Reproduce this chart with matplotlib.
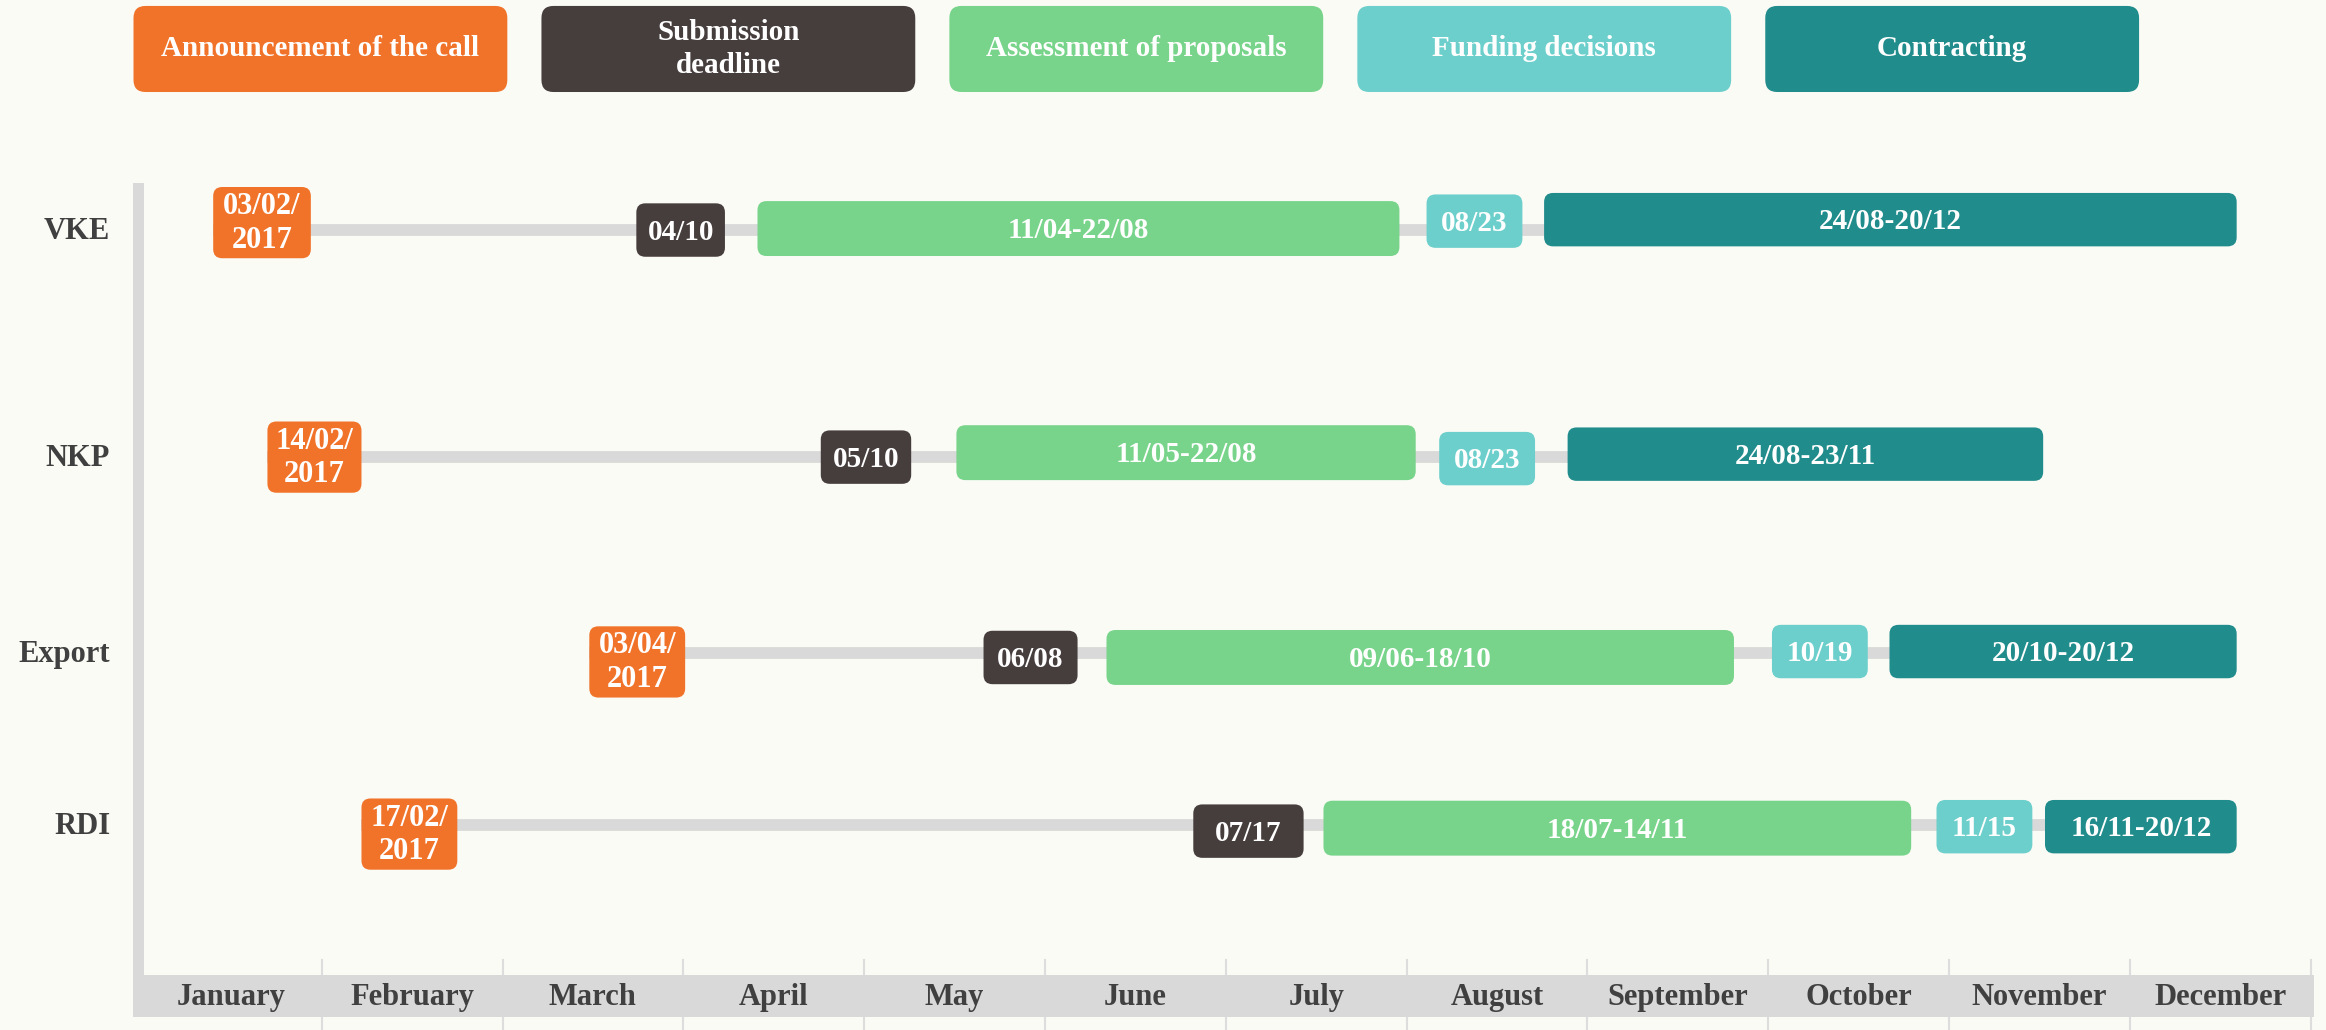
"""Call timeline for four programmes (VKE, NKP, Export, RDI), 2017."""
import matplotlib
matplotlib.use("Agg")
import matplotlib.pyplot as plt
from matplotlib.patches import FancyBboxPatch, Rectangle

plt.rcParams["font.family"] = ["Liberation Serif", "DejaVu Serif"]

BG    = "#FBFBF6"
GREY  = "#D9D9D9"
TXT   = "#404040"
OUT   = "out.png"

# phases: legend label, colour
phases  = ["Announcement of the call", "Submission\ndeadline",
           "Assessment of proposals", "Funding decisions", "Contracting"]
colours = ["#F07329", "#463D3D", "#78D48A", "#6CCFCB", "#218C8C"]

months = ["January", "February", "March", "April", "May", "June", "July",
          "August", "September", "October", "November", "December"]

rows   = ["VKE", "NKP", "Export", "RDI"]
line_y = [155, 308, 440, 556]          # row centre (y in chart units, top = 0)

# x in month units (0 = start of January)
ann_labels = ["03/02/\n2017", "14/02/\n2017", "03/04/\n2017", "17/02/\n2017"]
ann_start  = [0.40, 0.70, 2.48, 1.22]
ann_end    = [0.94, 1.22, 3.01, 1.75]
ann_y      = [150, 308, 446, 562]

sub_labels = ["04/10", "05/10", "06/08", "07/17"]
sub_start  = [2.74, 3.76, 4.66, 5.82]
sub_end    = [3.23, 4.26, 5.18, 6.43]
sub_y      = [155, 308, 443, 560]

ass_labels = ["11/04-22/08", "11/05-22/08", "09/06-18/10", "18/07-14/11"]
ass_start  = [3.41, 4.51, 5.34, 6.54]
ass_end    = [6.96, 7.05, 8.81, 9.79]
ass_y      = [154, 305, 443, 558]

fund_labels = ["08/23", "08/23", "10/19", "11/15"]
fund_start  = [7.11, 7.18, 9.02, 9.93]
fund_end    = [7.64, 7.71, 9.55, 10.46]
fund_y      = [149, 309, 439, 557]

con_labels = ["24/08-20/12", "24/08-23/11", "20/10-20/12", "16/11-20/12"]
con_start  = [7.76, 7.89, 9.67, 10.53]
con_end    = [11.59, 10.52, 11.59, 11.59]
con_y      = [148, 306, 439, 557]

series = [
    (ann_labels,  ann_start,  ann_end,  ann_y,  48),
    (sub_labels,  sub_start,  sub_end,  sub_y,  36),
    (ass_labels,  ass_start,  ass_end,  ass_y,  37),
    (fund_labels, fund_start, fund_end, fund_y, 36),
    (con_labels,  con_start,  con_end,  con_y,  36),
]

W, H = 2326, 1030
fig = plt.figure(figsize=(W / 100, H / 100), dpi=100, facecolor=BG)
ax = fig.add_axes([0, 0, 1, 1])
ax.set_facecolor(BG)
XMIN, XMAX = -0.779, 12.084
YMIN, YMAX = 694, 0
ax.set_xlim(XMIN, XMAX)
ax.set_ylim(YMIN, YMAX)
ax.axis("off")

# aspect between one y unit and one x unit in pixels, for round corners
px_x = W / (XMAX - XMIN)
px_y = H / abs(YMAX - YMIN)
ASPECT = px_x / px_y
RAD = 9 / px_x


def rbox(x0, x1, yc, h, colour, **kw):
    p = FancyBboxPatch((x0, yc - h / 2), x1 - x0, h,
                       boxstyle=f"round,pad=0,rounding_size={RAD}",
                       mutation_aspect=ASPECT, fc=colour, ec="none", **kw)
    ax.add_patch(p)


# axis frame: vertical bar, bottom band, month separators
ax.add_patch(Rectangle((-0.041, 123), 0.057, 534, fc=GREY, ec="none"))
ax.add_patch(Rectangle((-0.041, 657), 12.06, 28, fc=GREY, ec="none"))
for m in range(1, 13):
    ax.plot([m, m], [647, 694], color="#DDDDDD", lw=1.5, zorder=0)
for m, name in enumerate(months):
    ax.text(m + 0.5, 672, name, ha="center", va="center",
            fontsize=22, fontweight="bold", color=TXT)

# rows
for i, name in enumerate(rows):
    ax.text(-0.17, line_y[i] + 1, name, ha="right", va="center",
            fontsize=22, fontweight="bold", color=TXT)
    ax.plot([ann_start[i], con_start[i] + 0.05], [line_y[i], line_y[i]],
            color=GREY, lw=8.5, solid_capstyle="butt", zorder=1)
    for k, ((labels, start, end, yc, h), col) in enumerate(zip(series, colours)):
        rbox(start[i], end[i], yc[i], h, col, zorder=2)
        ax.text((start[i] + end[i]) / 2, yc[i] + (0.5 if k == 0 else 1.5),
                labels[i], ha="center", va="center",
                fontsize=22 if k == 0 else 21, fontweight="bold",
                color="white", linespacing=1.2, zorder=3)

# legend boxes across the top (axes fraction)
LEG_X0, LEG_W, LEG_STEP = 90 / 1568, 252 / 1568, 275 / 1568
LEG_Y0, LEG_H = 1 - 62 / 694, 58 / 694
for k, (lab, col) in enumerate(zip(phases, colours)):
    x0 = LEG_X0 + k * LEG_STEP
    p = FancyBboxPatch((x0, LEG_Y0), LEG_W, LEG_H,
                       boxstyle=f"round,pad=0,rounding_size={12 / W}",
                       mutation_aspect=W / H, fc=col, ec="none",
                       transform=ax.transAxes)
    ax.add_patch(p)
    ax.text(x0 + LEG_W / 2, LEG_Y0 + LEG_H / 2, lab, transform=ax.transAxes,
            ha="center", va="center", fontsize=21, fontweight="bold",
            color="white", linespacing=1.3)

fig.savefig(OUT, dpi=100, facecolor=BG)
